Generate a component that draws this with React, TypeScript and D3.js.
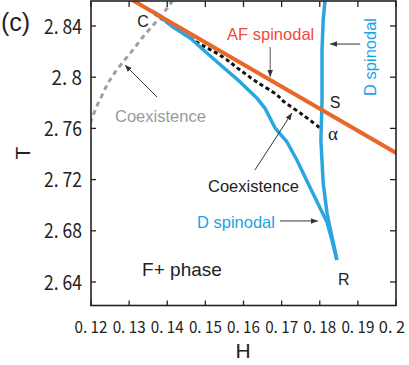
import React from 'react';
import * as d3 from 'd3';

const W = 409;
const HT = 365;
// plot frame (pixels)
const frame = { left: 91, right: 396, top: 1, bottom: 305.5 };

const hTicks = [0.12, 0.13, 0.14, 0.15, 0.16, 0.17, 0.18, 0.19, 0.2];
const hTickLabels = ['0. 12', '0. 13', '0. 14', '0. 15', '0. 16', '0. 17', '0. 18', '0. 19', '0. 2'];
const tTicks = [2.64, 2.68, 2.72, 2.76, 2.8, 2.84];
const tTickLabels = ['2. 64', '2. 68', '2. 72', '2. 76', '2. 8', '2. 84'];

// AF spinodal (straight line)
const afH = [0.13, 0.205];
const afT = [2.8617, 2.7322];

// D spinodal, lower branch (from C down to R)
const dLowH = [0.136, 0.1373, 0.1415, 0.146, 0.1504, 0.1546, 0.1591, 0.1635, 0.1656, 0.1683, 0.1714, 0.174, 0.1774, 0.1806, 0.1819, 0.1832, 0.1845];
const dLowT = [2.8517, 2.8494, 2.8392, 2.8306, 2.8189, 2.808, 2.7963, 2.7838, 2.7759, 2.7603, 2.7494, 2.7353, 2.7142, 2.6947, 2.6869, 2.6728, 2.6572];

// D spinodal, upper branch (near vertical, down to R)
const dUpH = [0.1814, 0.1809, 0.1806, 0.1806, 0.1803, 0.1809, 0.1819, 0.1827, 0.1837, 0.1845];
const dUpT = [2.8603, 2.8447, 2.8213, 2.7822, 2.7509, 2.7173, 2.6939, 2.6822, 2.6689, 2.6572];

// coexistence (black dotted)
const coexH = [0.1368, 0.1468, 0.1546, 0.1591, 0.1635, 0.1688, 0.1704, 0.1756, 0.1801];
const coexT = [2.8494, 2.8291, 2.8158, 2.8056, 2.7963, 2.7861, 2.7814, 2.7705, 2.7603];

// coexistence (gray dashed, left)
const coexGrayH = [0.119, 0.12, 0.1213, 0.1232, 0.1245, 0.1258, 0.1284, 0.131, 0.1336, 0.1368, 0.1402, 0.1415];
const coexGrayT = [2.7575, 2.7658, 2.7759, 2.7877, 2.7955, 2.8017, 2.8119, 2.8213, 2.8314, 2.8423, 2.8548, 2.8603];

const labels = [
  { text: 'C', h: 0.1321, t: 2.8392, color: '#222', size: 16, anchor: 'start' },
  { text: 'AF spinodal', h: 0.1557, t: 2.8291, color: '#ef4a3a', size: 16.5, anchor: 'start' },
  { text: 'S', h: 0.184, t: 2.7759, color: '#222', size: 16, anchor: 'middle' },
  { text: 'Coexistence', h: 0.1263, t: 2.765, color: '#9a9a9a', size: 16.5, anchor: 'start' },
  { text: 'Coexistence', h: 0.1507, t: 2.7103, color: '#222', size: 16.5, anchor: 'start' },
  { text: 'D spinodal', h: 0.1478, t: 2.6822, color: '#1ba3e4', size: 16.5, anchor: 'start' },
  { text: 'F+ phase', h: 0.1334, t: 2.6447, color: '#222', size: 19, anchor: 'start' },
  { text: 'R', h: 0.1848, t: 2.6377, color: '#222', size: 16, anchor: 'start' },
];

const arrows = [
  { h1: 0.167, t1: 2.8236, h2: 0.167, t2: 2.8002, color: '#555' },
  { h1: 0.1906, t1: 2.8259, h2: 0.1827, t2: 2.8259, color: '#333' },
  { h1: 0.1373, t1: 2.7845, h2: 0.1289, t2: 2.8095, color: '#333' },
  { h1: 0.163, t1: 2.7275, h2: 0.1727, t2: 2.772, color: '#333' },
  { h1: 0.1696, t1: 2.6877, h2: 0.1795, t2: 2.6877, color: '#333' },
];

const x = d3.scaleLinear().domain([0.12, 0.2]).range([91, 396]);
const y = d3.scaleLinear().domain([2.64, 2.84]).range([282, 26]);

const mkLine = (hs: number[], ts: number[], curve: d3.CurveFactory) =>
  d3.line<number>().x((d, i) => x(hs[i])).y((d, i) => y(ts[i])).curve(curve)(hs) || '';

const tickFont = '"Noto Sans CJK JP", sans-serif';
const textFont = '"Liberation Sans", Arial, sans-serif';

const App = () => {
  const { left, right, top, bottom } = frame;
  return (
    <>
      <style>{`body{margin:0}`}</style>
      <svg width={W} height={HT} style={{ display: 'block', background: '#fff' }}>
        <defs>
          <clipPath id="plot">
            <rect x={left} y={top} width={right - left} height={bottom - top} />
          </clipPath>
          <marker id="ah" viewBox="0 0 10 10" refX="10" refY="5" markerWidth="7" markerHeight="7" orient="auto" markerUnits="userSpaceOnUse">
            <path d="M0,1 L10,5 L0,9 Z" fill="#333" />
          </marker>
        </defs>

        <g clipPath="url(#plot)" fill="none" strokeLinejoin="round">
          <path d={mkLine(coexGrayH, coexGrayT, d3.curveCatmullRom)} stroke="#a0a0a0" strokeWidth={3} strokeDasharray="5 4" />
          <path d={mkLine(coexH, coexT, d3.curveCatmullRom)} stroke="#111" strokeWidth={3} strokeDasharray="4 3" />
          <path d={mkLine(dLowH, dLowT, d3.curveLinear)} stroke="#29a6df" strokeWidth={3.5} />
          <path d={mkLine(dUpH, dUpT, d3.curveLinear)} stroke="#29a6df" strokeWidth={3.5} />
          <path d={mkLine(afH, afT, d3.curveLinear)} stroke="#e8672c" strokeWidth={4} />
        </g>

        {arrows.map((a, i) => (
          <line key={i} x1={x(a.h1)} y1={y(a.t1)} x2={x(a.h2)} y2={y(a.t2)} stroke={a.color} strokeWidth={1} markerEnd="url(#ah)" />
        ))}

        {labels.map((l, i) => (
          <text key={i} x={x(l.h)} y={y(l.t)} fill={l.color} fontSize={l.size} fontFamily={textFont} textAnchor={l.anchor}>
            {l.text}
          </text>
        ))}
        <text x={x(0.1835)} y={y(2.7509)} fontSize={19} fontFamily='"Liberation Serif", serif' textAnchor="middle" fill="#222">α</text>
        <text transform={`translate(${x(0.1932)},${y(2.8158)}) rotate(-90)`} fontSize={16.5} fontFamily={textFont} textAnchor="middle" dominantBaseline="central" fill="#1ba3e4">D spinodal</text>

        {/* frame */}
        <rect x={left} y={top} width={right - left} height={bottom - top} fill="none" stroke="#222" strokeWidth={1.6} />

        {/* ticks, all inward */}
        {hTicks.map((h, i) => (
          <g key={'h' + i}>
            <line x1={x(h)} x2={x(h)} y1={bottom} y2={bottom - 5} stroke="#222" strokeWidth={1.3} />
            <line x1={x(h)} x2={x(h)} y1={top} y2={top + 6} stroke="#222" strokeWidth={1.3} />
            <text
              x={i === hTicks.length - 1 ? x(h) - 4 : x(h)}
              y={333}
              fontSize={16}
              fontFamily={tickFont}
              textAnchor="middle"
              textLength={hTickLabels[i].length * 6.6}
              lengthAdjust="spacingAndGlyphs"
              fill="#222"
            >
              {hTickLabels[i]}
            </text>
          </g>
        ))}
        {tTicks.map((t, i) => (
          <g key={'t' + i}>
            <line x1={left} x2={left + 5} y1={y(t)} y2={y(t)} stroke="#222" strokeWidth={1.3} />
            <line x1={right} x2={right - 6} y1={y(t)} y2={y(t)} stroke="#222" strokeWidth={1.3} />
            <text
              x={82}
              y={y(t) + 7.5}
              fontSize={20}
              fontFamily={tickFont}
              textAnchor="end"
              textLength={tTickLabels[i].length * 7.6}
              lengthAdjust="spacingAndGlyphs"
              fill="#222"
            >
              {tTickLabels[i]}
            </text>
          </g>
        ))}

        <text x={243} y={358} fontSize={21} fontFamily={textFont} textAnchor="middle" fill="#222">H</text>
        <text transform={`translate(30,153) rotate(-90)`} fontSize={21} fontFamily={textFont} textAnchor="middle" fill="#222">T</text>
        <text x={1} y={31} fontSize={25} fontFamily={textFont} fill="#222">(c)</text>
      </svg>
    </>
  );
};

export default App;
